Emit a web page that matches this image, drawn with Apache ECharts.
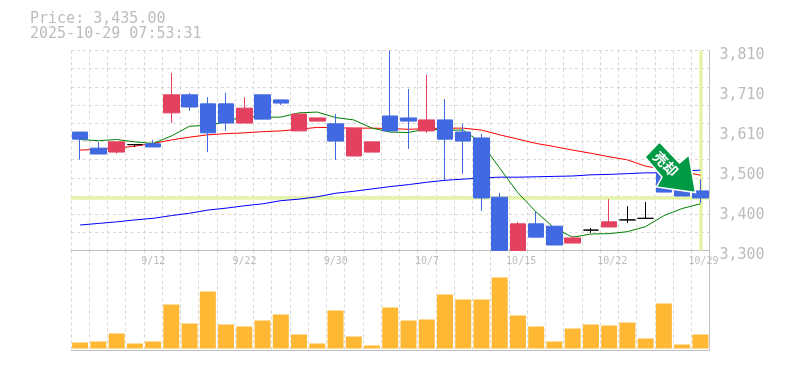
<!DOCTYPE html>
<html><head><meta charset="utf-8">
<style>html,body{margin:0;padding:0;background:#fff}#c{width:785px;height:370px}</style>
<script src="https://cdn.jsdelivr.net/npm/echarts@6/dist/echarts.min.js"></script>
</head><body><div id="c"></div>
<script>
const titleLines = ['Price: 3,435.00', '2025-10-29 07:53:31'];
const categories = ['9/8','9/9','9/10','9/11','9/12','9/16','9/17','9/18','9/19','9/22','9/24','9/25','9/26','9/29','9/30','10/1','10/2','10/3','10/6','10/7','10/8','10/9','10/10','10/14','10/15','10/16','10/17','10/20','10/21','10/22','10/23','10/24','10/27','10/28','10/29'];
const opens  = [3602,3561,3551,3570,3572,3651,3697,3674,3674,3625,3697,3684,3605,3630,3623,3541,3551,3643,3638,3605,3633,3602,3587,3436,3300,3368,3362,3319,3352,3360,3378,3382,3498,3454,3452];
const closes = [3584,3546,3577,3570,3564,3697,3666,3600,3625,3663,3635,3676,3648,3638,3579,3612,3577,3605,3630,3633,3584,3579,3434,3300,3368,3334,3314,3332,3352,3373,3378,3382,3449,3439,3434];
const lows   = [3532,3546,3547,3564,3564,3625,3656,3551,3605,3625,3635,3671,3605,3630,3531,3541,3551,3602,3559,3600,3480,3495,3401,3300,3300,3334,3314,3319,3345,3360,3370,3380,3449,3439,3421];
const highs  = [3602,3577,3577,3571,3582,3753,3702,3691,3702,3691,3697,3684,3648,3638,3648,3612,3577,3810,3712,3748,3686,3623,3597,3447,3373,3398,3362,3337,3357,3431,3413,3424,3498,3454,3482];
const maShort = [3583,3580,3583,3577,3573,3592,3617,3619,3628,3643,3640,3640,3651,3653,3639,3633,3612,3602,3601,3610,3607,3607,3574,3510,3447,3398,3357,3334,3342,3343,3348,3361,3389,3407,3419];
const maMid   = [3556,3558,3561,3566,3573,3582,3589,3595,3598,3600,3603,3605,3609,3614,3613,3612,3612,3611,3609,3611,3612,3612,3607,3595,3584,3573,3565,3556,3548,3539,3531,3515,3507,3501,3492];
const maLong  = [3365,3369,3373,3378,3382,3389,3395,3403,3408,3414,3419,3427,3431,3437,3446,3451,3457,3463,3468,3474,3479,3482,3485,3487,3487,3488,3489,3490,3493,3494,3496,3498,3498,3502,3505];
const volumes = [6,7,15,5,7,44,25,57,24,22,28,34,14,5,38,12,3,41,28,29,54,49,49,71,33,22,7,20,24,23,26,10,45,4,14];
const priceTicks = [3300,3402,3504,3606,3708,3810];
const priceTickLabels = ['3,300','3,400','3,500','3,610','3,710','3,810'];
const dateTickIndexes = [4,9,14,19,24,29,34];
const currentPrice = 3435;
const signalText = '売却';

const MONO = '"DejaVu Sans Mono", monospace';
const GRID = '#d8d8d8', AXIS = '#c0c0c0', TXT = '#bcbcbc';
const dash = {color: GRID, type: [3,3], width: 1};
const LABEL_SHIFT = 0.65;
const rows = opens.map((o,i)=>[o,closes[i],lows[i],highs[i]]);
const lineSeries = (name,data,color)=>({name,type:'line',data,xAxisIndex:0,yAxisIndex:0,symbol:'none',
  lineStyle:{color,width:1},z:2,silent:true,animation:false});

const chart = echarts.init(document.getElementById('c'),null,{renderer:'canvas'});
chart.setOption({
  animation:false,
  backgroundColor:'#fff',
  title:{text:titleLines.join('\n'),left:30,top:12,padding:0,
    textStyle:{fontFamily:MONO,fontSize:15,fontWeight:'normal',color:'#bdbdbd',lineHeight:15}},
  grid:[{left:71,top:50.5,width:638.5,height:200},{left:71,top:250.5,width:638.5,height:100},{left:71,top:55,width:638.5,height:200}],
  xAxis:[
    {type:'category',gridIndex:0,data:categories,boundaryGap:true,
      axisLine:{show:true,onZero:false,lineStyle:{color:AXIS,width:1}},axisTick:{show:false},axisLabel:{show:false},
      splitLine:{show:true,interval:0,lineStyle:dash}},
    {type:'value',gridIndex:0,position:'bottom',min:-0.5,max:34.5,
      axisLine:{show:false,onZero:false},axisTick:{show:false},splitLine:{show:false},
      axisLabel:{show:true,customValues:dateTickIndexes.map(i=>i-LABEL_SHIFT),align:'left',margin:6,
        fontFamily:MONO,fontSize:10,color:TXT,
        formatter:v=>categories[Math.round(v+LABEL_SHIFT)]}},
    {type:'category',gridIndex:1,data:categories,boundaryGap:true,
      axisLine:{show:true,onZero:false,lineStyle:{color:AXIS,width:1}},axisTick:{show:false},axisLabel:{show:false},
      splitLine:{show:true,interval:0,lineStyle:dash}},
    {type:'category',gridIndex:2,data:categories,show:false}
  ],
  yAxis:[
    {type:'value',gridIndex:0,position:'right',min:3300,max:3810,
      axisLine:{show:true,onZero:false,lineStyle:{color:AXIS,width:1}},axisTick:{show:false},splitLine:{show:false},
      axisLabel:{show:false}},
    {type:'value',gridIndex:0,position:'left',min:0,max:11,interval:1,
      axisLine:{show:false,onZero:false},axisTick:{show:false},axisLabel:{show:false},
      splitLine:{show:true,lineStyle:dash}},
    {type:'value',gridIndex:1,position:'right',min:-2,max:98,
      axisLine:{show:true,onZero:false,lineStyle:{color:AXIS,width:1}},axisTick:{show:false},axisLabel:{show:false},
      splitLine:{show:false}},
    {type:'value',gridIndex:2,position:'right',min:3300,max:3810,
      axisLine:{show:false,onZero:false},axisTick:{show:false},splitLine:{show:false},
      axisLabel:{show:true,customValues:priceTicks,margin:10,fontFamily:MONO,fontSize:15,color:TXT,
        formatter:v=>priceTickLabels[priceTicks.indexOf(v)]}}
  ],
  series:[
    {name:'guides',type:'line',data:[],xAxisIndex:0,yAxisIndex:0,z:1,silent:true,
      markLine:{z:1,silent:true,symbol:'none',animation:false,label:{show:false},
        lineStyle:{color:'#e4f5a8',width:3.5,type:'solid'},
        data:[{yAxis:currentPrice},{xAxis:categories[34]}]}},
    lineSeries('MA long',maLong,'#0000ff'),
    lineSeries('MA mid',maMid,'#ff0000'),
    lineSeries('MA short',maShort,'#008000'),
    {name:'price',type:'candlestick',data:rows,xAxisIndex:0,yAxisIndex:0,barWidth:16,z:3,silent:true,
      itemStyle:{color:'#e4405f',color0:'#4169e1',borderColor:'#e4405f',borderColor0:'#4169e1',borderColorDoji:'#000000',borderWidth:1}},
    {name:'volume',type:'bar',data:volumes,xAxisIndex:2,yAxisIndex:2,barWidth:16,silent:true,
      itemStyle:{color:'#ffb833'}},
    {name:'priceScale',type:'line',data:[],xAxisIndex:3,yAxisIndex:3,silent:true}
  ],
  graphic:[
    {type:'polygon',z:100,
      shape:{points:[[659.5,142],[645,157],[662,177],[656.5,187],[695.5,192.5],[689,155],[679.5,163]]},
      style:{fill:'#009944',stroke:'#ffffff',lineWidth:1.5}},
    {type:'text',z:101,x:665.7,y:164,rotation:-Math.PI/4,
      style:{text:signalText,fill:'#ffffff',font:'bold 14px "Noto Sans CJK JP"',align:'center',verticalAlign:'middle'}}
  ]
});
</script></body></html>
